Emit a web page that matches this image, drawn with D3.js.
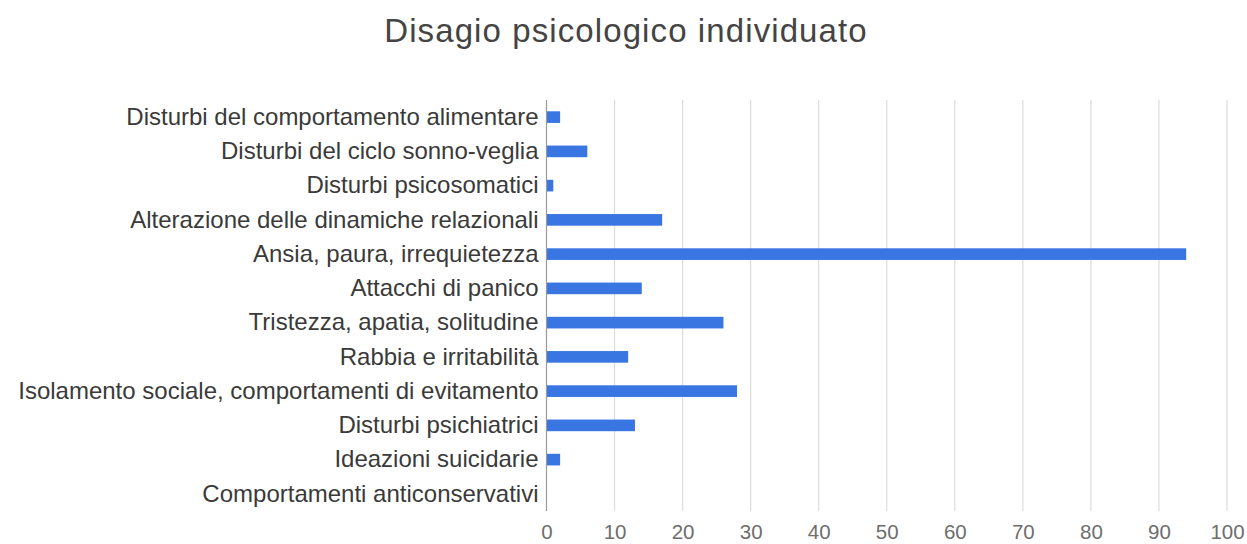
<!DOCTYPE html>
<html>
<head>
<meta charset="utf-8">
<script src="https://cdn.jsdelivr.net/npm/d3@7"></script>
<style>
  html, body { margin: 0; padding: 0; background: #ffffff; }
  svg { display: block; }
</style>
</head>
<body>
<svg id="chart" width="1247" height="544"></svg>
<script>
const title = "Disagio psicologico individuato";
const categories = [
  "Disturbi del comportamento alimentare",
  "Disturbi del ciclo sonno-veglia",
  "Disturbi psicosomatici",
  "Alterazione delle dinamiche relazionali",
  "Ansia, paura, irrequietezza",
  "Attacchi di panico",
  "Tristezza, apatia, solitudine",
  "Rabbia e irritabilità",
  "Isolamento sociale, comportamenti di evitamento",
  "Disturbi psichiatrici",
  "Ideazioni suicidarie",
  "Comportamenti anticonservativi"
];
const values = [2, 6, 1, 17, 94, 14, 26, 12, 28, 13, 2, 0];
const xTicks = [0, 10, 20, 30, 40, 50, 60, 70, 80, 90, 100];

const svg = d3.select("#chart");
const font = "'Liberation Sans', Arial, Helvetica, sans-serif";

const x = d3.scaleLinear().domain([0, 100]).range([546.5, 1227]);
const y = d3.scaleBand().domain(categories).range([100, 511])
  .paddingInner(0.66).paddingOuter(0.33);

// title
svg.append("text")
  .attr("x", 626).attr("y", 42)
  .attr("text-anchor", "middle")
  .attr("font-family", font)
  .attr("font-size", 33)
  .attr("letter-spacing", 1.1)
  .attr("fill", "#444444")
  .text(title);

// gridlines
svg.append("g").selectAll("line")
  .data(xTicks.filter(d => d !== 0))
  .join("line")
  .attr("x1", d => x(d)).attr("x2", d => x(d))
  .attr("y1", 100).attr("y2", 511)
  .attr("stroke", "#dcdcdc").attr("stroke-width", 1.2);

// bars
svg.append("g").selectAll("rect")
  .data(values.map((v, i) => ({ c: categories[i], v })))
  .join("rect")
  .attr("x", x(0))
  .attr("y", d => y(d.c))
  .attr("width", d => x(d.v) - x(0))
  .attr("height", y.bandwidth())
  .attr("fill", "#3a76e2");

// baseline
svg.append("line")
  .attr("x1", x(0)).attr("x2", x(0))
  .attr("y1", 100).attr("y2", 511)
  .attr("stroke", "#9a9a9a").attr("stroke-width", 1.2);

// x axis labels
const xAxis = d3.axisBottom(x).tickValues(xTicks).tickSize(0).tickPadding(0);
const gx = svg.append("g").attr("transform", "translate(0,520)").call(xAxis);
gx.select(".domain").remove();
gx.selectAll("text")
  .attr("font-family", font)
  .attr("font-size", 20.5)
  .attr("fill", "#6e6e6e")
  .attr("dy", "0.71em")
  .attr("y", 4);

// y axis labels
const yAxis = d3.axisLeft(y).tickSize(0).tickPadding(8);
const gy = svg.append("g").attr("transform", `translate(${x(0)},0)`).call(yAxis);
gy.select(".domain").remove();
gy.selectAll("text")
  .attr("font-family", font)
  .attr("font-size", 24)
  .attr("fill", "#3a3a3a");
</script>
</body>
</html>
